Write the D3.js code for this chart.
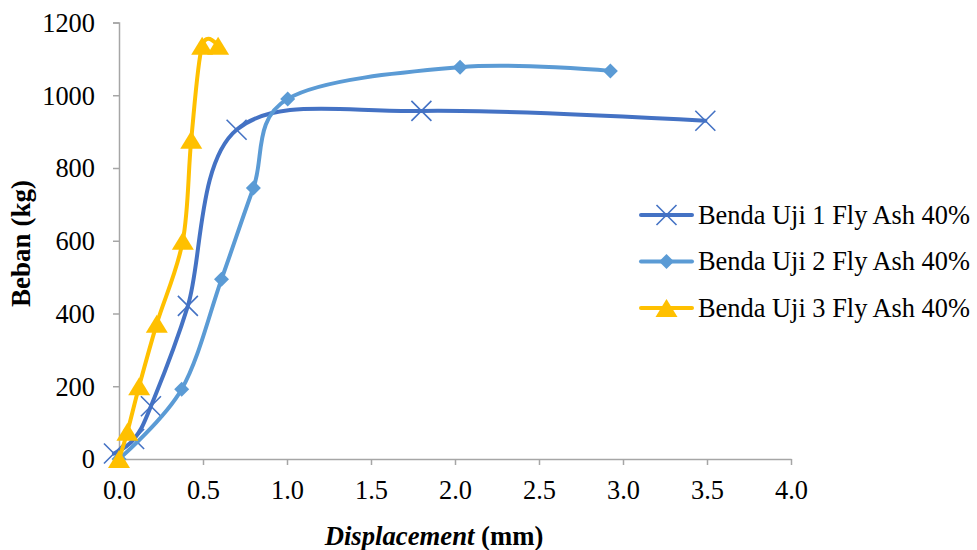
<!DOCTYPE html>
<html>
<head>
<meta charset="utf-8">
<script src="https://cdn.jsdelivr.net/npm/d3@7"></script>
<style>
  html, body { margin: 0; padding: 0; background: #fff; }
  svg { display: block; }
  text { font-family: "Liberation Serif", "Times New Roman", serif; fill: #000; }
</style>
</head>
<body>
<svg id="chart" width="977" height="550"></svg>
<script>
// Load–displacement readings for the three specimens
const seriesNames = [
  "Benda Uji 1 Fly Ash 40%",
  "Benda Uji 2 Fly Ash 40%",
  "Benda Uji 3 Fly Ash 40%"
];
const disp1 = [-0.03, 0.09, 0.19, 0.41, 0.70, 1.80, 3.49];
const load1 = [15, 55, 145, 421, 905, 957, 930];
const disp2 = [0, 0.373, 0.61, 0.80, 1.004, 2.03, 2.925];
const load2 = [0, 192, 494, 745, 990, 1077, 1067];
const disp3 = [0, 0.05, 0.12, 0.225, 0.38, 0.43, 0.495, 0.59];
const load3 = [0, 75, 200, 372, 600, 878, 1136, 1136];

const xTicks = [0, 0.5, 1, 1.5, 2, 2.5, 3, 3.5, 4];
const yTicks = [0, 200, 400, 600, 800, 1000, 1200];

const colors = ["#4472C4", "#5B9BD5", "#FFC000"];
const markers = ["cross", "diamond", "triangle"];

const FONT = 26.4;

const svg = d3.select("#chart");
const plot = { left: 119, right: 791, top: 22.5, bottom: 459 };

const x = d3.scaleLinear().domain([0, 4]).range([plot.left, plot.right]);
const y = d3.scaleLinear().domain([0, 1200]).range([plot.bottom, plot.top]);

const axisColor = "#A6A6A6";

// X axis
const xAxis = svg.append("g")
  .attr("transform", `translate(0,${plot.bottom})`)
  .call(d3.axisBottom(x).tickValues(xTicks).tickSizeInner(6).tickSizeOuter(0)
    .tickFormat(d3.format(".1f")));
xAxis.select(".domain").attr("stroke", axisColor).attr("stroke-width", 1.5);
xAxis.selectAll(".tick line").attr("stroke", axisColor).attr("stroke-width", 1.5);
xAxis.selectAll(".tick text")
  .attr("font-size", FONT).attr("y", 0).attr("dy", 0)
  .attr("transform", "translate(0,40)")
  .attr("font-family", "Liberation Serif, Times New Roman, serif");

// Y axis
const yAxis = svg.append("g")
  .attr("transform", `translate(${plot.left},0)`)
  .call(d3.axisLeft(y).tickValues(yTicks).tickSizeInner(6).tickSizeOuter(6)
    .tickFormat(d3.format("d")));
yAxis.select(".domain").attr("stroke", axisColor).attr("stroke-width", 1.5);
yAxis.selectAll(".tick line").attr("stroke", axisColor).attr("stroke-width", 1.5);
yAxis.selectAll(".tick text")
  .attr("font-size", FONT).attr("x", -24).attr("dy", "0.34em")
  .attr("font-family", "Liberation Serif, Times New Roman, serif");

// Axis titles
svg.append("text")
  .attr("transform", "translate(30,243.5) rotate(-90)")
  .attr("text-anchor", "middle")
  .attr("font-size", 27).attr("font-weight", "bold")
  .text("Beban (kg)");

const xt = svg.append("text")
  .attr("x", 434).attr("y", 545)
  .attr("text-anchor", "middle")
  .attr("font-size", 26.7).attr("font-weight", "bold");
xt.append("tspan").attr("font-style", "italic").text("Displacement");
xt.append("tspan").text(" (mm)");

// Smoothed lines
const line = d3.line()
  .x(d => x(d[0])).y(d => y(d[1]))
  .curve(d3.curveCatmullRom.alpha(0));

const allSeries = [
  d3.zip(disp1, load1),
  d3.zip(disp2, load2),
  d3.zip(disp3, load3)
];

function drawMarker(g, type, color, cx, cy) {
  if (type === "cross") {
    const s = 10;
    g.append("path")
      .attr("d", `M${cx - s},${cy - s}L${cx + s},${cy + s}M${cx - s},${cy + s}L${cx + s},${cy - s}`)
      .attr("stroke", color).attr("stroke-width", 1.6).attr("fill", "none");
  } else if (type === "diamond") {
    const s = 7.5;
    g.append("path")
      .attr("d", `M${cx},${cy - s}L${cx + s},${cy}L${cx},${cy + s}L${cx - s},${cy}Z`)
      .attr("fill", color);
  } else {
    const w = 11, h = 18;
    g.append("path")
      .attr("d", `M${cx},${cy - h / 2}L${cx + w},${cy + h / 2}L${cx - w},${cy + h / 2}Z`)
      .attr("fill", color);
  }
}

allSeries.forEach((pts, i) => {
  svg.append("path")
    .datum(pts)
    .attr("d", line)
    .attr("fill", "none")
    .attr("stroke", colors[i])
    .attr("stroke-width", 4)
    .attr("stroke-linecap", "round")
    .attr("stroke-linejoin", "round");
  const g = svg.append("g");
  pts.forEach(p => drawMarker(g, markers[i], colors[i], x(p[0]), y(p[1])));
});

// Legend
const legendY = [215, 261.5, 308];
seriesNames.forEach((name, i) => {
  const g = svg.append("g");
  g.append("line")
    .attr("x1", 641).attr("x2", 692)
    .attr("y1", legendY[i]).attr("y2", legendY[i])
    .attr("stroke", colors[i]).attr("stroke-width", 4)
    .attr("stroke-linecap", "round");
  drawMarker(g, markers[i], colors[i], 666.5, legendY[i]);
  g.append("text")
    .attr("x", 698).attr("y", legendY[i])
    .attr("dy", "0.34em")
    .attr("font-size", FONT)
    .text(name);
});
</script>
</body>
</html>
